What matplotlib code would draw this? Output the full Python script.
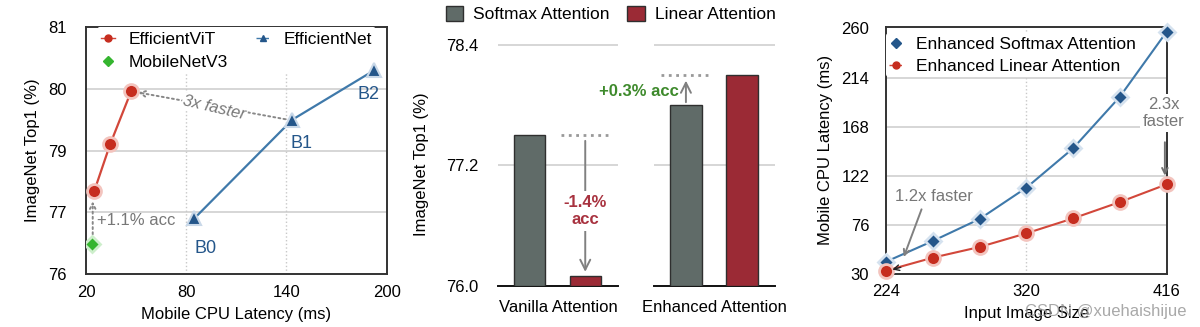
import numpy as np
import matplotlib
matplotlib.use('Agg')
import matplotlib.pyplot as plt
from matplotlib.patches import Patch
from matplotlib.lines import Line2D

plt.rcParams['font.family'] = ['Liberation Sans', 'DejaVu Sans']

# ---------------- data ----------------
# Panel 1: accuracy vs latency
vit_latency = [25.0, 34.4, 47.0]
vit_acc = [77.7, 79.1, 79.96]
mbv3_latency = [23.8]
mbv3_acc = [76.48]
effnet_latency = [84.8, 143.5, 192.5]
effnet_acc = [76.9, 79.5, 80.3]
effnet_names = ['B0', 'B1', 'B2']
p1_yticks = [76, 77, 79, 80, 81]
p1_xticks = [20, 80, 140, 200]

# Panel 2: bars
bar_groups = ['Vanilla Attention', 'Enhanced Attention']
softmax_acc = [77.5, 77.8]
linear_acc = [76.1, 78.1]
p2_yticks = [76.0, 77.2, 78.4]

# Panel 3: latency vs resolution
img_size = [224, 256, 288, 320, 352, 384, 416]
softmax_lat = [41.5, 60.9, 81.5, 110.8, 147.7, 196.0, 256.9]
linear_lat = [33.1, 45.3, 55.3, 68.1, 82.1, 97.4, 114.0]
p3_yticks = [30, 76, 122, 168, 214, 260]
p3_xticks = [224, 320, 416]

# ---------------- style ----------------
RED = '#c62d1f'
RED_LINE = '#d2473a'
BLUE = '#24568a'
BLUE_LINE = '#3f79aa'
GREEN = '#35b52f'
GRAY_TXT = '#777777'
GRID = '#cfcfcf'
SPINE = '#333333'
FS = 12

fig = plt.figure(figsize=(12, 3.27), dpi=100)

# ================= Panel 1 =================
ax1 = fig.add_axes([0.0717, 0.162, 0.2505, 0.755])
yk = np.array(p1_yticks, dtype=float)
yp = np.arange(len(p1_yticks), dtype=float)
fwd = lambda v: np.interp(v, yk, yp)
inv = lambda v: np.interp(v, yp, yk)
ax1.set_yscale('function', functions=(fwd, inv))
ax1.set_xlim(20, 200)
ax1.set_ylim(76, 81)
ax1.set_xticks(p1_xticks)
ax1.set_yticks(p1_yticks)
ax1.tick_params(axis='both', length=0, labelsize=FS)
ax1.tick_params(axis='y', pad=14)
ax1.tick_params(axis='x', pad=8)
for y in [77, 79, 80]:
    ax1.axhline(y, color=GRID, lw=1.2, zorder=0)
for x in [80, 140]:
    ax1.axvline(x, color='#c8c8c8', lw=1.0, ls=':', zorder=0)
for s in ax1.spines.values():
    s.set_color(SPINE); s.set_linewidth(1.4)

ax1.plot(vit_latency, vit_acc, '-', color=RED_LINE, lw=1.6, zorder=3)
ax1.plot(vit_latency, vit_acc, 'o', color=RED, ms=10, mec='#f3c4be', mew=2, zorder=4)
ax1.plot(effnet_latency, effnet_acc, '-', color=BLUE_LINE, lw=1.6, zorder=3)
ax1.plot(effnet_latency, effnet_acc, '^', color=BLUE, ms=10, mec='#c9d8e8', mew=1.5, zorder=4)
ax1.plot(mbv3_latency, mbv3_acc, 'D', color=GREEN, ms=8.5, mec='#cdeecb', mew=2, zorder=4)

b_offsets = [(7, -0.48), (5.5, -0.38), (-3.5, -0.39)]
for name, x, y, (dx, dy) in zip(effnet_names, effnet_latency, effnet_acc, b_offsets):
    ax1.text(x + dx, y + dy, name, color=BLUE, fontsize=13, ha='center', va='center')

ax1.annotate('', xy=(49.5, 79.95), xytext=(141, 79.5),
             arrowprops=dict(arrowstyle='->', color='#888888', ls=':', lw=1.4), zorder=2)
ax1.text(97, 79.69, '3x faster', style='italic', color=GRAY_TXT, fontsize=FS,
         rotation=-13, ha='center', va='center',
         bbox=dict(facecolor='white', edgecolor='none', pad=1), zorder=2.5)
ax1.annotate('', xy=(24, 77.45), xytext=(24, 76.6),
             arrowprops=dict(arrowstyle='->', color='#888888', ls=':', lw=1.4), zorder=2)
ax1.text(26.5, 76.87, '+1.1% acc', color=GRAY_TXT, fontsize=FS, ha='left', va='center')

ax1.set_xlabel('Mobile CPU Latency (ms)', fontsize=FS, labelpad=5)
ax1.set_ylabel('ImageNet Top1 (%)', fontsize=FS, labelpad=6)

h1 = [Line2D([], [], color=RED_LINE, marker='o', mfc=RED, mec=RED, ms=5, lw=1),
      Line2D([], [], color=GREEN, marker='D', ls='none', ms=5),
      Line2D([], [], color=BLUE_LINE, marker='^', mfc=BLUE, mec=BLUE, ms=4, lw=1, ls='--')]
leg1 = ax1.legend(h1, ['EfficientViT', 'MobileNetV3', 'EfficientNet'], ncol=2,
                  loc='upper left', bbox_to_anchor=(0.035, 1.0), fontsize=12.5,
                  frameon=True, facecolor='white', edgecolor='none', framealpha=1,
                  handlelength=0.8, handletextpad=0.8, columnspacing=1.6,
                  borderpad=0.25, labelspacing=0.45, borderaxespad=0.0)
leg1.set_zorder(2.6)

# ================= Panel 2 =================
SOFT = '#606b68'
LIN = '#9b2a35'
bw = 0.56
axes2 = [fig.add_axes([0.4148, 0.1263, 0.1003, 0.7431]),
         fig.add_axes([0.5450, 0.1263, 0.1008, 0.7431])]
for i, ax in enumerate(axes2):
    ax.bar([0], [softmax_acc[i] - 76.0], bottom=76.0, width=bw, color=SOFT,
           edgecolor='#2f2f2f', lw=1.0, zorder=3)
    ax.bar([1], [linear_acc[i] - 76.0], bottom=76.0, width=bw, color=LIN,
           edgecolor='#2f2f2f', lw=1.0, zorder=3)
    ax.set_xlim(-0.57, 1.59)
    ax.set_ylim(76.0, 78.42)
    ax.set_xticks([])
    ax.set_yticks(p2_yticks)
    for y in p2_yticks[1:]:
        ax.axhline(y, color=GRID, lw=1.2, zorder=0)
    for k in ['top', 'right', 'left']:
        ax.spines[k].set_visible(False)
    ax.spines['bottom'].set_color('#111111')
    ax.spines['bottom'].set_linewidth(1.4)
    ax.tick_params(axis='y', length=0, labelsize=FS, pad=14)
    ax.set_xlabel(bar_groups[i], fontsize=FS, labelpad=10)
axes2[1].tick_params(axis='y', labelleft=False)
axes2[0].set_yticklabels([f'{v:.1f}' for v in p2_yticks])
axes2[0].set_ylabel('ImageNet Top1 (%)', fontsize=FS, labelpad=12)

a = axes2[0]
a.plot([0.56, 1.42], [softmax_acc[0]] * 2, ls=':', color='#999999', lw=2, zorder=2)
a.annotate('', xy=(1, linear_acc[0] + 0.01), xytext=(1, softmax_acc[0] - 0.03),
           arrowprops=dict(arrowstyle='->', color='#808080', lw=1.4, mutation_scale=18), zorder=4)
a.text(1, 76.74, '-1.4%\nacc', color='#a8323f', fontsize=FS, fontweight='bold',
       ha='center', va='center', linespacing=1.15,
       bbox=dict(facecolor='white', edgecolor='none', pad=3), zorder=5)

b = axes2[1]
b.plot([-0.45, 0.40], [linear_acc[1]] * 2, ls=':', color='#999999', lw=2, zorder=2)
b.annotate('', xy=(0, linear_acc[1] - 0.03), xytext=(0, softmax_acc[1]),
           arrowprops=dict(arrowstyle='->', color='#808080', lw=1.4, mutation_scale=18), zorder=4)
b.text(-0.12, 77.93, '+0.3% acc', color='#3e8a2c', fontsize=FS, fontweight='bold',
       ha='right', va='center', clip_on=False, zorder=5)

h2 = [Patch(facecolor=SOFT, edgecolor='#2f2f2f'), Patch(facecolor=LIN, edgecolor='#2f2f2f')]
fig.legend(h2, ['Softmax Attention', 'Linear Attention'], ncol=2, loc='center',
           bbox_to_anchor=(0.509, 0.957), frameon=False, fontsize=12.5,
           handlelength=1.0, handleheight=1.0, handletextpad=0.6, columnspacing=1.0)

# ================= Panel 3 =================
ax3 = fig.add_axes([0.7383, 0.162, 0.2339, 0.756])
ax3.set_xlim(224, 416)
ax3.set_ylim(30, 261.5)
ax3.set_xticks(p3_xticks)
ax3.set_yticks(p3_yticks)
ax3.tick_params(axis='both', length=0, labelsize=FS)
ax3.tick_params(axis='y', pad=12)
ax3.tick_params(axis='x', pad=7)
for y in p3_yticks[1:-1]:
    ax3.axhline(y, color=GRID, lw=1.2, zorder=0)
ax3.axvline(320, color='#c8c8c8', lw=1.0, ls=':', zorder=0)
for s in ax3.spines.values():
    s.set_color(SPINE); s.set_linewidth(1.4)

ax3.plot(img_size, softmax_lat, '-', color=BLUE_LINE, lw=1.5, zorder=3, clip_on=False)
ax3.plot(img_size, softmax_lat, 'D', color=BLUE, ms=8.5, mec='#d5e2ef', mew=2, zorder=4, clip_on=False)
ax3.plot(img_size, linear_lat, '-', color=RED_LINE, lw=1.5, zorder=3, clip_on=False)
ax3.plot(img_size, linear_lat, 'o', color=RED, ms=10, mec='#f3c4be', mew=2, zorder=4, clip_on=False)

ax3.annotate('', xy=(235.5, 43.5), xytext=(249, 93),
             arrowprops=dict(arrowstyle='->', color='#808080', lw=1.4), zorder=5)
ax3.annotate('', xy=(226.5, 33.5), xytext=(236, 37),
             arrowprops=dict(arrowstyle='->', color='#222222', lw=1.0), zorder=5)
ax3.text(256.8, 102.4, '1.2x faster', color=GRAY_TXT, fontsize=FS, ha='center', va='center')
ax3.text(414.2, 181, '2.3x\nfaster', color=GRAY_TXT, fontsize=FS, ha='center', va='center',
         linespacing=1.15, clip_on=False,
         bbox=dict(facecolor='white', edgecolor='none', pad=2), zorder=5)
ax3.annotate('', xy=(414.8, 119.5), xytext=(414.8, 156),
             arrowprops=dict(arrowstyle='->', color='#707070', lw=1.4), zorder=5)

ax3.set_xlabel('Input Image Size', fontsize=FS, labelpad=5)
ax3.set_ylabel('Mobile CPU Latency (ms)', fontsize=FS, labelpad=6)

h3 = [Line2D([], [], color=BLUE, marker='D', ls='none', ms=5),
      Line2D([], [], color=RED_LINE, marker='o', mfc=RED, mec=RED, ms=5, lw=1, ls='--')]
leg3 = ax3.legend(h3, ['Enhanced Softmax Attention', 'Enhanced Linear Attention'],
                  loc='upper left', bbox_to_anchor=(0.0, 0.975), fontsize=12.5,
                  frameon=True, facecolor='white', edgecolor='none', framealpha=1,
                  handlelength=0.8, handletextpad=0.75, borderpad=0.2,
                  labelspacing=0.4, borderaxespad=0.0)
leg3.set_zorder(2.6)

fig.text(0.989, 0.047, 'CSDN @xuehaishijue', color='#9a9a9a', alpha=0.85,
         fontsize=12, ha='right', va='center')

fig.savefig('out.png', dpi=100)
